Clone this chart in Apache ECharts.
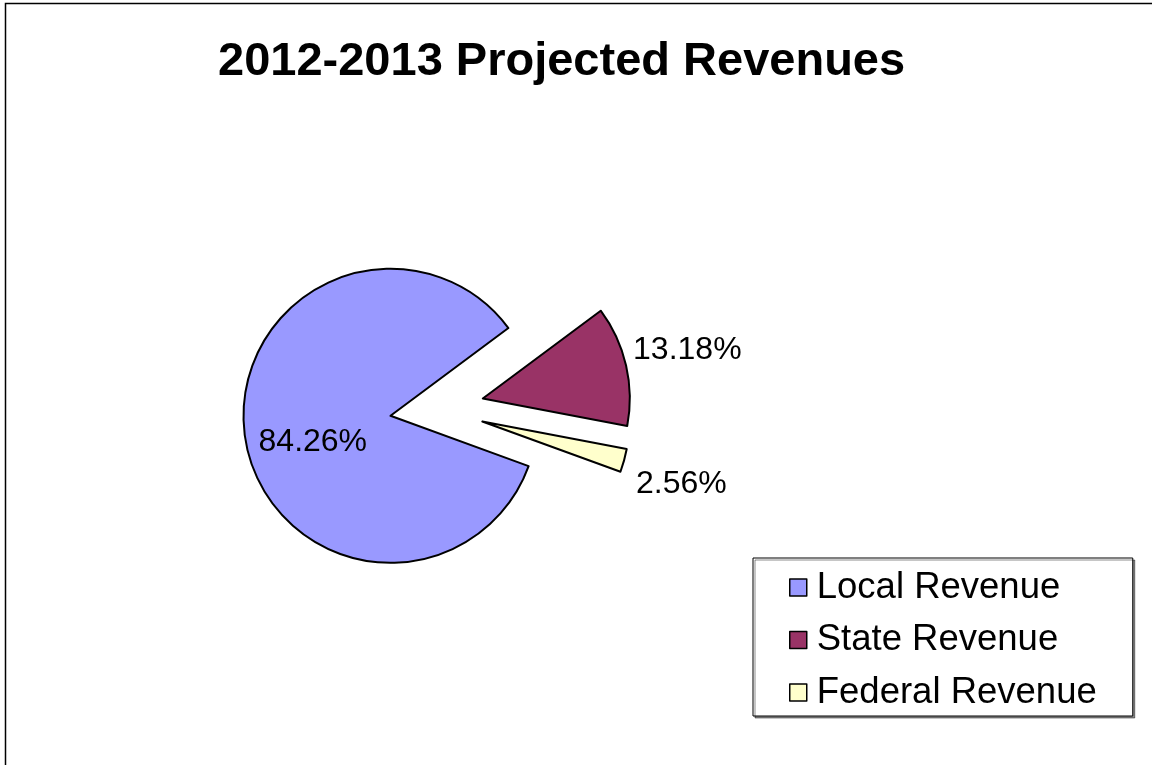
<!DOCTYPE html>
<html>
<head>
<meta charset="utf-8">
<title>2012-2013 Projected Revenues</title>
<script src="https://cdn.jsdelivr.net/npm/echarts@6/dist/echarts.min.js"></script>
<style>
  html, body { margin: 0; padding: 0; background: #fff; }
  #chart { width: 1152px; height: 765px; }
</style>
</head>
<body>
<div id="chart"></div>
<script>
const categories = ['Local Revenue', 'State Revenue', 'Federal Revenue']
const shares = [84.26, 13.18, 2.56]
const palette = ['#9999FF', '#993366', '#FFFFCC']

// small nudges so labels sit where Excel put them
const labelNudge = [[-2, 15], [2, -15], [7, 24]]

const chart = echarts.init(document.getElementById('chart'))

chart.setOption({
  animation: false,
  backgroundColor: '#fff',
  textStyle: { fontFamily: 'Liberation Sans, Arial, sans-serif' },
  graphic: [
    {
      type: 'rect',
      shape: { x: 5.5, y: 3.5, width: 1300, height: 900 },
      style: { fill: 'none', stroke: '#000', lineWidth: 1.5 },
      silent: true
    }
  ],
  title: {
    text: '2012-2013 Projected Revenues',
    left: 213,
    top: 34,
    textStyle: {
      fontFamily: 'Liberation Sans, Arial, sans-serif',
      fontWeight: 'bold',
      fontSize: 47,
      color: '#000'
    }
  },
  legend: {
    orient: 'vertical',
    left: 753,
    top: 558,
    padding: [11, 36, 5, 36],
    itemGap: 15.5,
    itemWidth: 17,
    itemHeight: 17,
    backgroundColor: '#fff',
    borderColor: '#000',
    borderWidth: 1,
    shadowColor: 'rgba(0,0,0,0.45)',
    shadowOffsetX: 2,
    shadowOffsetY: 2,
    shadowBlur: 0,
    selectedMode: false,
    icon: 'rect',
    itemStyle: { borderColor: '#000', borderWidth: 1.5 },
    textStyle: {
      fontFamily: 'Liberation Sans, Arial, sans-serif',
      fontSize: 36.5,
      color: '#000',
      padding: [0, 0, 0, 5]
    },
    data: categories
  },
  series: [
    {
      type: 'pie',
      center: [437, 409],
      radius: 147,
      startAngle: -20,
      clockwise: true,
      selectedMode: 'multiple',
      selectedOffset: 47,
      avoidLabelOverlap: false,
      itemStyle: { borderColor: '#000', borderWidth: 2 },
      select: { itemStyle: { borderColor: '#000', borderWidth: 2 } },
      emphasis: { disabled: true },
      label: {
        show: true,
        position: 'outside',
        fontFamily: 'Liberation Sans, Arial, sans-serif',
        fontSize: 32,
        color: '#000',
        formatter: (p) => p.value.toFixed(2) + '%'
      },
      labelLine: { show: false, length: 0, length2: 0 },
      labelLayout: (p) => ({ dx: labelNudge[p.dataIndex][0], dy: labelNudge[p.dataIndex][1] }),
      data: categories.map((name, i) => ({
        name,
        value: shares[i],
        selected: true,
        itemStyle: { color: palette[i] },
        label: i === 0 ? { position: 'inside' } : undefined
      }))
    }
  ]
})
</script>
</body>
</html>
